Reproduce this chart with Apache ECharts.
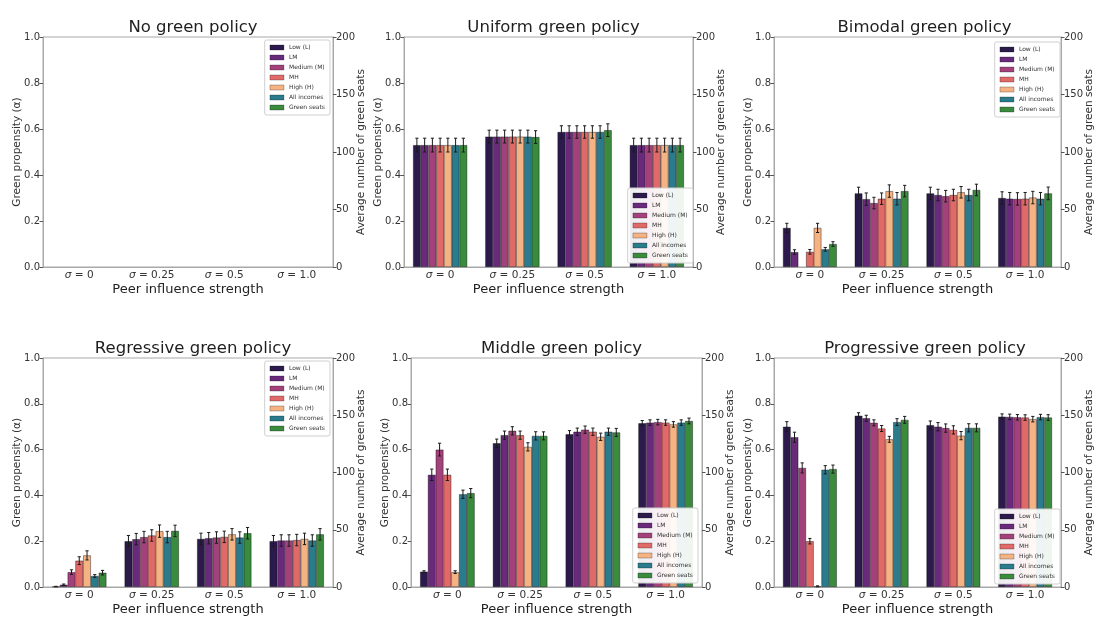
<!DOCTYPE html>
<html><head><meta charset="utf-8">
<script src="https://cdn.jsdelivr.net/npm/echarts@6/dist/echarts.min.js"></script>
<style>html,body{margin:0;padding:0;background:#fff}#c{width:1096px;height:617px}</style>
</head><body><div id="c"></div>
<script>
const categories = ['σ = 0', 'σ = 0.25', 'σ = 0.5', 'σ = 1.0'];
const seriesNames = ['Low (L)', 'LM', 'Medium (M)', 'MH', 'High (H)', 'All incomes', 'Green seats'];
const seriesColors = ['#2c1a4c', '#6a2a7c', '#a3427a', '#e06a68', '#f5b384', '#2a7b8c', '#3a8b3e'];
const panelTitles = ['No green policy', 'Uniform green policy', 'Bimodal green policy',
  'Regressive green policy', 'Middle green policy', 'Progressive green policy'];

// Rows: Low, LM, Medium, MH, High, All incomes (propensity α, left axis); Green seats (count, right axis)
const noPolicyMean = [[0,0,0,0],[0,0,0,0],[0,0,0,0],[0,0,0,0],[0,0,0,0],[0,0,0,0],[0,0,0,0]];
const noPolicyErr  = [[0,0,0,0],[0,0,0,0],[0,0,0,0],[0,0,0,0],[0,0,0,0],[0,0,0,0],[0,0,0,0]];

const uniformMean = [
  [0.53, 0.567, 0.587, 0.53], [0.53, 0.567, 0.587, 0.53], [0.53, 0.567, 0.587, 0.53],
  [0.53, 0.567, 0.587, 0.53], [0.53, 0.567, 0.587, 0.53], [0.53, 0.567, 0.587, 0.53],
  [106, 113, 119, 106]];
const uniformErr = [
  [0.03, 0.028, 0.027, 0.03], [0.03, 0.028, 0.027, 0.03], [0.03, 0.028, 0.027, 0.03],
  [0.03, 0.028, 0.027, 0.03], [0.03, 0.028, 0.027, 0.03], [0.03, 0.028, 0.027, 0.03],
  [6, 5.5, 5.5, 6]];

const bimodalMean = [
  [0.17, 0.32, 0.32, 0.30], [0.065, 0.295, 0.313, 0.297], [0.0, 0.278, 0.308, 0.296],
  [0.066, 0.297, 0.313, 0.297], [0.17, 0.33, 0.325, 0.302], [0.077, 0.297, 0.313, 0.297],
  [20, 66, 67, 64]];
const bimodalErr = [
  [0.02, 0.027, 0.027, 0.027], [0.01, 0.027, 0.025, 0.027], [0, 0.025, 0.025, 0.027],
  [0.01, 0.025, 0.025, 0.027], [0.02, 0.027, 0.025, 0.027], [0.008, 0.027, 0.025, 0.027],
  [2, 5, 5, 5.5]];

const regressiveMean = [
  [0.002, 0.2, 0.21, 0.2], [0.01, 0.209, 0.213, 0.203], [0.065, 0.218, 0.216, 0.203],
  [0.115, 0.225, 0.219, 0.205], [0.138, 0.244, 0.23, 0.21], [0.048, 0.218, 0.216, 0.203],
  [12.5, 49, 47, 46]];
const regressiveErr = [
  [0.001, 0.025, 0.025, 0.025], [0.003, 0.025, 0.025, 0.025], [0.01, 0.025, 0.025, 0.025],
  [0.017, 0.025, 0.025, 0.025], [0.02, 0.027, 0.025, 0.025], [0.006, 0.025, 0.025, 0.025],
  [2, 5, 5, 5]];

const middleMean = [
  [0.067, 0.628, 0.667, 0.715], [0.49, 0.663, 0.678, 0.718], [0.6, 0.682, 0.687, 0.72],
  [0.49, 0.663, 0.678, 0.718], [0.065, 0.612, 0.656, 0.71], [0.405, 0.66, 0.678, 0.718],
  [82, 132, 135, 145]];
const middleErr = [
  [0.004, 0.018, 0.016, 0.012], [0.025, 0.018, 0.016, 0.012], [0.028, 0.018, 0.016, 0.012],
  [0.025, 0.018, 0.016, 0.012], [0.006, 0.018, 0.016, 0.012], [0.018, 0.018, 0.016, 0.012],
  [4, 3.5, 3.5, 2.5]];

const progressiveMean = [
  [0.70, 0.748, 0.707, 0.744], [0.654, 0.737, 0.70, 0.743], [0.52, 0.717, 0.694, 0.741],
  [0.2, 0.692, 0.686, 0.740], [0.003, 0.645, 0.661, 0.733], [0.512, 0.72, 0.695, 0.742],
  [103, 146, 139, 148]];
const progressiveErr = [
  [0.022, 0.013, 0.018, 0.012], [0.022, 0.013, 0.018, 0.012], [0.022, 0.013, 0.018, 0.012],
  [0.012, 0.013, 0.018, 0.012], [0.002, 0.013, 0.018, 0.012], [0.018, 0.015, 0.018, 0.012],
  [3.5, 3, 3.5, 2.5]];

const leftTicks = [0, 0.2, 0.4, 0.6, 0.8, 1.0];
const rightTicks = [0, 50, 100, 150, 200];

const panelMeans = [noPolicyMean, uniformMean, bimodalMean, regressiveMean, middleMean, progressiveMean];
const panelErrs = [noPolicyErr, uniformErr, bimodalErr, regressiveErr, middleErr, progressiveErr];

// ---- layout ----
const FONT = 'DejaVu Sans';
const grids = [
  {left: 43, top: 37, width: 290, height: 230},
  {left: 404, top: 37, width: 289, height: 230},
  {left: 774, top: 37, width: 291, height: 230},
  {left: 43, top: 358, width: 290, height: 230},
  {left: 411, top: 358, width: 291, height: 230},
  {left: 774, top: 358, width: 292, height: 230}
];
const legendPos = [
  {top: 40, right: 766},
  {bottom: 354, right: 403},
  {top: 42, right: 36},
  {top: 361, right: 766},
  {bottom: 34, right: 398},
  {bottom: 33, right: 36}
];
const NB = seriesNames.length;
const GROUP_FRAC = 0.75;

const chart = echarts.init(document.getElementById('c'), null, {renderer: 'canvas'});

function makeErrRender() {
  return function (params, api) {
    const cat = api.value(0), k = api.value(1), m = api.value(2), e = api.value(3);
    if (!e) return null;
    const band = api.size([1, 0])[0];
    const gw = band * GROUP_FRAC, bw = gw / NB;
    const c = api.coord([cat, m]);
    const x = c[0] - gw / 2 + bw * (k + 0.5);
    const yt = api.coord([cat, m + e])[1];
    const yb = api.coord([cat, Math.max(0, m - e)])[1];
    const cap = 1.6;
    const st = {stroke: '#1a1a1a', lineWidth: 1};
    return {type: 'group', children: [
      {type: 'line', shape: {x1: x, y1: yt, x2: x, y2: yb}, style: st},
      {type: 'line', shape: {x1: x - cap, y1: yt, x2: x + cap, y2: yt}, style: st},
      {type: 'line', shape: {x1: x - cap, y1: yb, x2: x + cap, y2: yb}, style: st}
    ]};
  };
}

const option = {
  animation: false,
  backgroundColor: '#fff',
  textStyle: {fontFamily: FONT},
  title: [], grid: [], xAxis: [], yAxis: [], legend: [], series: []
};

const axisLineStyle = {color: '#a8a8a8', width: 1};

grids.forEach((g, p) => {
  option.grid.push(Object.assign({show: true, borderColor: '#a8a8a8', borderWidth: 1, containLabel: false}, g));
  option.title.push({
    text: panelTitles[p], left: g.left + g.width / 2, textAlign: 'center',
    top: p < 3 ? 14 : 335,
    textStyle: {fontFamily: FONT, fontSize: 16.5, fontWeight: 'normal', color: '#1e1e1e'}
  });
  option.xAxis.push({
    type: 'category', gridIndex: p, data: categories,
    axisLine: {lineStyle: axisLineStyle}, axisTick: {show: false},
    axisLabel: {
      interval: 0, fontFamily: FONT, fontSize: 10.5, color: '#333', margin: 3,
      formatter: v => v.replace('σ', '{i|σ}'),
      rich: {i: {fontStyle: 'italic', fontFamily: FONT, fontSize: 10.5, color: '#333'}}
    },
    name: 'Peer influence strength', nameLocation: 'middle', nameGap: 16, nameMoveOverlap: false,
    nameTextStyle: {fontFamily: FONT, fontSize: 13, color: '#222'}
  });
  option.yAxis.push({
    type: 'value', gridIndex: p, min: leftTicks[0], max: leftTicks[leftTicks.length - 1], interval: 0.2,
    axisLine: {show: true, lineStyle: axisLineStyle},
    axisTick: {show: true, length: 3.5, lineStyle: {color: '#555'}},
    splitLine: {show: false},
    axisLabel: {fontFamily: FONT, fontSize: 10, color: '#333', margin: 3, formatter: v => v.toFixed(1)},
    name: 'Green propensity (α)', nameLocation: 'middle', nameRotate: 90, nameGap: 20, nameMoveOverlap: false,
    nameTextStyle: {fontFamily: FONT, fontSize: 10.5, color: '#333'}
  });
  option.yAxis.push({
    type: 'value', gridIndex: p, position: 'right',
    min: rightTicks[0], max: rightTicks[rightTicks.length - 1], interval: 50,
    axisLine: {show: true, lineStyle: axisLineStyle},
    axisTick: {show: true, length: 3.5, lineStyle: {color: '#555'}},
    splitLine: {show: false},
    axisLabel: {fontFamily: FONT, fontSize: 10, color: '#333', margin: 3},
    name: 'Average number of green seats', nameLocation: 'middle', nameRotate: 90, nameGap: 23, nameMoveOverlap: false,
    nameTextStyle: {fontFamily: FONT, fontSize: 10.5, color: '#333'}
  });
  option.legend.push(Object.assign({
    orient: 'vertical', data: seriesNames, icon: 'rect',
    itemWidth: 14, itemHeight: 5, itemGap: 3, padding: [4, 5],
    backgroundColor: 'rgba(255,255,255,0.92)', borderColor: '#cfcfcf', borderWidth: 1, borderRadius: 2,
    textStyle: {fontFamily: FONT, fontSize: 6, color: '#333', lineHeight: 7},
    itemStyle: {borderWidth: 0.5, borderColor: 'rgba(0,0,0,0.5)'}, selectedMode: false, z: 10
  }, legendPos[p]));

  const means = panelMeans[p], errs = panelErrs[p];
  for (let k = 0; k < NB; k++) {
    const isSeats = k === NB - 1;
    option.series.push({
      type: 'bar', name: seriesNames[k], xAxisIndex: p, yAxisIndex: p * 2 + (isSeats ? 1 : 0),
      data: means[k].map(v => ({value: v, itemStyle: {borderWidth: v > 0 ? 0.6 : 0}})),
      barGap: '0%', barCategoryGap: '25%',
      itemStyle: {color: seriesColors[k], borderColor: 'rgba(0,0,0,0.65)', borderWidth: 0.6},
      emphasis: {disabled: true}, z: 2
    });
  }
  const incData = [], seatData = [];
  for (let k = 0; k < NB; k++) {
    for (let c = 0; c < categories.length; c++) {
      const item = [c, k, means[k][c], errs[k][c]];
      if (k === NB - 1) seatData.push(item); else incData.push(item);
    }
  }
  option.series.push({
    type: 'custom', xAxisIndex: p, yAxisIndex: p * 2, data: incData,
    encode: {x: 0, y: 2}, renderItem: makeErrRender(), z: 3, silent: true, clip: false
  });
  option.series.push({
    type: 'custom', xAxisIndex: p, yAxisIndex: p * 2 + 1, data: seatData,
    encode: {x: 0, y: 2}, renderItem: makeErrRender(), z: 3, silent: true, clip: false
  });
});

chart.setOption(option);
</script>
</body></html>
